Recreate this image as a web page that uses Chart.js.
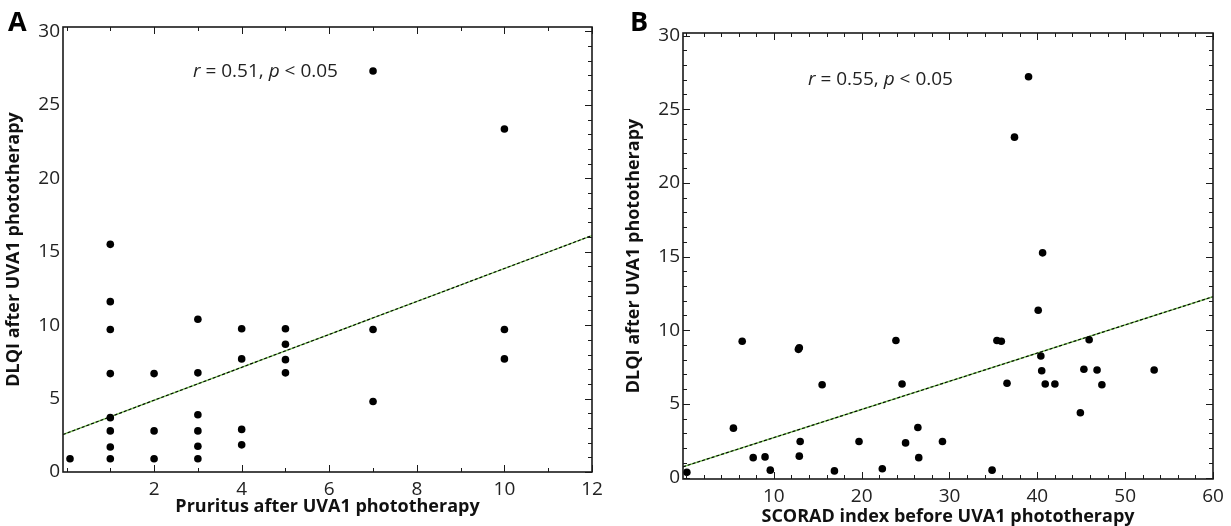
<!DOCTYPE html>
<html>
<head>
<meta charset="utf-8">
<script src="https://cdn.jsdelivr.net/npm/chart.js@4.4.0/dist/chart.umd.min.js"></script>
<style>
  html, body { margin: 0; padding: 0; background: #fff; }
  #wrapA { position: absolute; left: 0; top: 0; width: 615px; height: 526px; }
  #wrapB { position: absolute; left: 615px; top: 0; width: 616px; height: 526px; }
</style>
</head>
<body>
<div id="wrapA"><canvas id="chartA" width="615" height="526"></canvas></div>
<div id="wrapB"><canvas id="chartB" width="616" height="526"></canvas></div>
<script>
// --- Panel A: pruritus vs DLQI ---
const pruritusA = [0.08, 1, 1, 1, 1, 1, 1, 1, 1, 2, 2, 2, 3, 3, 3, 3, 3, 3, 4, 4, 4, 4, 5, 5, 5, 5, 7, 7, 7, 10, 10, 10];
const dlqiA = [0.9, 15.5, 11.6, 9.7, 6.7, 3.7, 2.8, 1.7, 0.9, 6.7, 2.8, 0.9, 10.4, 6.75, 3.9, 2.8, 1.75, 0.9, 9.75, 7.7, 2.9, 1.85, 9.75, 8.7, 7.65, 6.75, 27.3, 9.7, 4.8, 23.35, 9.7, 7.7];
const fitA_x = [-0.08, 12];
const fitA_y = [2.55, 16.1];
const xLabelsA = [2, 4, 6, 8, 10, 12];
const yLabelsA = [0, 5, 10, 15, 20, 25, 30];

// --- Panel B: SCORAD vs DLQI ---
const scoradB = [0.1, 5.4, 6.4, 7.65, 9.0, 9.6, 12.8, 12.9, 13.0, 12.9, 15.5, 16.9, 19.7, 22.35, 23.9, 24.6, 25.0, 26.4, 26.5, 29.2, 34.85, 35.4, 35.9, 36.55, 37.4, 39.0, 40.1, 40.4, 40.5, 40.6, 40.9, 42.0, 44.9, 45.3, 45.9, 46.8, 47.35, 53.3];
const dlqiB = [0.35, 3.35, 9.25, 1.35, 1.4, 0.5, 8.7, 8.8, 2.45, 1.45, 6.3, 0.45, 2.45, 0.6, 9.3, 6.35, 2.35, 3.4, 1.35, 2.45, 0.5, 9.3, 9.25, 6.4, 23.1, 27.2, 11.35, 8.25, 7.25, 15.25, 6.35, 6.35, 4.4, 7.35, 9.35, 7.3, 6.3, 7.3];
const fitB_x = [-0.34, 60];
const fitB_y = [0.73, 12.27];
const xLabelsB = [10, 20, 30, 40, 50, 60];
const yLabelsB = [0, 5, 10, 15, 20, 25, 30];

const FONT = '"Open Sans", "Noto Sans", sans-serif';
const INK = '#1a1a1a';

function pts(xs, ys) {
  return xs.map((x, i) => ({ x: x, y: ys[i] }));
}

// ticks every `step` from 0 to `last`
function tickMaker(step, last) {
  return function (scale) {
    const t = [];
    for (let v = 0; v <= last + 1e-9; v += step) t.push({ value: Math.round(v * 100) / 100 });
    scale.ticks = t;
  };
}

// box frame + inward tick marks on chosen sides
const frameTicks = {
  id: 'frameTicks',
  afterDatasetsDraw(chart, args, opts) {
    const { ctx, chartArea: a, scales: { x, y } } = chart;
    ctx.save();
    ctx.strokeStyle = INK;
    ctx.lineWidth = 1;
    x.ticks.forEach(t => {
      const px = Math.round(x.getPixelForValue(t.value)) + 0.5;
      const len = opts.xMajor.includes(t.value) ? 7 : 4;
      ctx.beginPath();
      if (opts.sides.includes('bottom')) { ctx.moveTo(px, a.bottom); ctx.lineTo(px, a.bottom - len); }
      if (opts.sides.includes('top')) { ctx.moveTo(px, a.top); ctx.lineTo(px, a.top + len); }
      ctx.stroke();
    });
    y.ticks.forEach(t => {
      const py = Math.round(y.getPixelForValue(t.value)) + 0.5;
      const len = opts.yMajor.includes(t.value) ? 7 : 4;
      ctx.beginPath();
      if (opts.sides.includes('left')) { ctx.moveTo(a.left, py); ctx.lineTo(a.left + len, py); }
      if (opts.sides.includes('right')) { ctx.moveTo(a.right, py); ctx.lineTo(a.right - len, py); }
      ctx.stroke();
    });
    ctx.lineWidth = 1.6;
    ctx.strokeRect(a.left, a.top, a.right - a.left, a.bottom - a.top);
    ctx.restore();
  }
};

// panel letter + r/p annotation with italic symbols
const notes = {
  id: 'notes',
  afterDraw(chart, args, opts) {
    const { ctx } = chart;
    ctx.save();
    ctx.fillStyle = '#000';
    ctx.textBaseline = 'middle';
    ctx.font = 'bold 27px ' + FONT;
    ctx.fillText(opts.letter, opts.letterX, opts.letterY);
    let cx = opts.textX;
    opts.parts.forEach(p => {
      ctx.font = (p.i ? 'italic ' : '') + '19px ' + FONT;
      ctx.fillStyle = '#222';
      ctx.fillText(p.t, cx, opts.textY);
      cx += ctx.measureText(p.t).width;
    });
    ctx.restore();
  }
};

function makeChart(id, cfg) {
  return new Chart(document.getElementById(id), {
    type: 'scatter',
    data: {
      datasets: [
        {
          data: pts(cfg.xs, cfg.ys),
          backgroundColor: '#000',
          borderWidth: 0,
          pointRadius: 3.8,
          order: 0
        },
        {
          type: 'line',
          data: pts(cfg.fitX, cfg.fitY),
          borderColor: '#7cc45a',
          borderWidth: 1.3,
          pointRadius: 0,
          order: 2
        },
        {
          type: 'line',
          data: pts(cfg.fitX, cfg.fitY),
          borderColor: '#000',
          borderWidth: 1.1,
          borderDash: [3, 2],
          pointRadius: 0,
          order: 1
        }
      ]
    },
    options: {
      responsive: false,
      devicePixelRatio: 1,
      animation: false,
      layout: { padding: cfg.pad },
      plugins: {
        legend: { display: false },
        tooltip: { enabled: false },
        frameTicks: { sides: cfg.sides, xMajor: cfg.xLabels, yMajor: cfg.yLabels },
        notes: cfg.notes
      },
      scales: {
        x: {
          type: 'linear',
          min: cfg.xMin, max: cfg.xMax,
          afterBuildTicks: tickMaker(cfg.xStep, cfg.xMax),
          afterFit: s => { s.height = cfg.xH; },
          grid: { display: false, drawTicks: false },
          border: { display: false },
          ticks: {
            autoSkip: false, maxRotation: 0, padding: 6,
            color: '#222', font: { family: FONT, size: 19 },
            callback: v => cfg.xLabels.includes(v) ? String(v) : ''
          },
          title: {
            display: true, text: cfg.xTitle, color: '#111',
            font: { family: FONT, size: 18, weight: 'bold', lineHeight: 1 },
            padding: { top: 0, bottom: cfg.xTitlePad }
          }
        },
        y: {
          type: 'linear',
          min: cfg.yMin, max: cfg.yMax,
          afterBuildTicks: tickMaker(1, 30),
          afterFit: s => { s.width = cfg.yW; },
          grid: { display: false, drawTicks: false },
          border: { display: false },
          ticks: {
            autoSkip: false, padding: 3,
            color: '#222', font: { family: FONT, size: 19 },
            callback: v => cfg.yLabels.includes(v) ? String(v) : ''
          },
          title: {
            display: true, text: 'DLQI after UVA1 phototherapy', color: '#111',
            font: { family: FONT, size: 18, weight: 'bold', lineHeight: 1 },
            padding: { top: cfg.yTitlePad, bottom: 0 }
          }
        }
      }
    },
    plugins: [frameTicks, notes]
  });
}

makeChart('chartA', {
  xs: pruritusA, ys: dlqiA, fitX: fitA_x, fitY: fitA_y,
  xLabels: xLabelsA, yLabels: yLabelsA,
  xMin: -0.08, xMax: 12, xStep: 1, yMin: 0, yMax: 30.3,
  pad: { left: 0, right: 23, top: 27, bottom: 0 },
  xH: 54, yW: 63, xTitlePad: 10, yTitlePad: 5,
  xTitle: 'Pruritus after UVA1 phototherapy',
  sides: ['top', 'right', 'bottom'],
  notes: {
    letter: 'A', letterX: 8, letterY: 23, textX: 193, textY: 72,
    parts: [{ t: 'r', i: true }, { t: ' = 0.51, ' }, { t: 'p', i: true }, { t: ' < 0.05' }]
  }
});

makeChart('chartB', {
  xs: scoradB, ys: dlqiB, fitX: fitB_x, fitY: fitB_y,
  xLabels: xLabelsB, yLabels: yLabelsB,
  xMin: -0.34, xMax: 60, xStep: 2, yMin: -0.1, yMax: 30.17,
  pad: { left: 0, right: 18, top: 33, bottom: 0 },
  xH: 47, yW: 68, xTitlePad: 0, yTitlePad: 10,
  xTitle: 'SCORAD index before UVA1 phototherapy',
  sides: ['top', 'right', 'bottom', 'left'],
  notes: {
    letter: 'B', letterX: 15, letterY: 23, textX: 193, textY: 80,
    parts: [{ t: 'r', i: true }, { t: ' = 0.55, ' }, { t: 'p', i: true }, { t: ' < 0.05' }]
  }
});
</script>
</body>
</html>
